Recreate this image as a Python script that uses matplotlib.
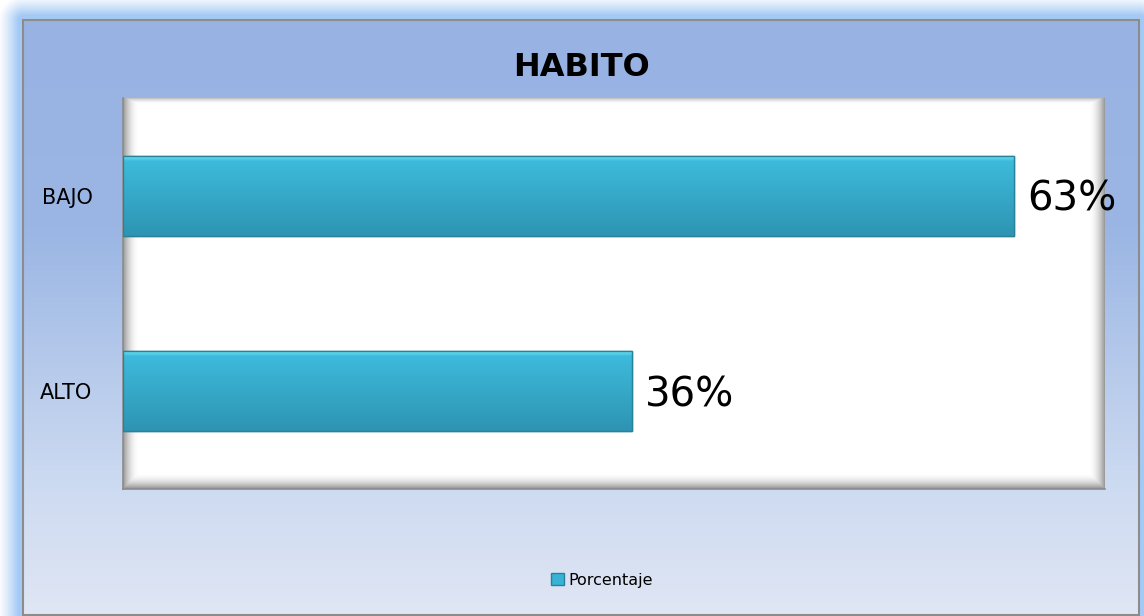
# -*- coding: utf-8 -*-
"""
HABITO - barra horizontal con estilo de Excel.
"""
import numpy as np
import matplotlib
matplotlib.use("Agg")
import matplotlib.pyplot as plt
from matplotlib.patches import Rectangle, Patch

# datos
categorias = ["ALTO", "BAJO"]
porcentaje = [36, 63]
etiquetas = ["36%", "63%"]
titulo = "HABITO"
serie = "Porcentaje"

W, H = 1144, 616
fig = plt.figure(figsize=(W / 100, H / 100), dpi=100)
fig.patch.set_facecolor("white")

# fondo: brillo exterior + degradado del marco
fx0, fx1, fy0, fy1 = 23, 1139, 20, 615
yy, xx = np.mgrid[0:H, 0:W].astype(float)
dx = np.maximum(np.maximum(fx0 - xx, xx - fx1), 0)
dy = np.maximum(np.maximum(fy0 - yy, yy - fy1), 0)
d = np.hypot(dx, dy)
glow = np.array([0.64, 0.79, 0.96])
a = np.clip(1.25 - d / 20, 0, 1) ** 1.2
img = np.ones((H, W, 3)) * (1 - a[..., None]) + glow * a[..., None]

stops_y = [fy0, 230, 480, fy1]
stops_c = np.array([[0.596, 0.702, 0.890], [0.608, 0.714, 0.894],
                    [0.800, 0.855, 0.945], [0.878, 0.902, 0.957]])
grad = np.stack([np.interp(np.arange(H), stops_y, stops_c[:, k]) for k in range(3)], axis=1)
inside = (xx >= fx0) & (xx <= fx1) & (yy >= fy0) & (yy <= fy1)
img[inside] = np.broadcast_to(grad[:, None, :], (H, W, 3))[inside]

bg = fig.add_axes([0, 0, 1, 1])
bg.imshow(img, extent=(0, W, H, 0), aspect="auto", interpolation="bilinear")
bg.add_patch(Rectangle((fx0, fy0), fx1 - fx0, fy1 - fy0, fill=False,
                       edgecolor="#8c8c8c", linewidth=1.5))
bg.set_xlim(0, W)
bg.set_ylim(H, 0)
bg.axis("off")

# area de trazado
px0, px1, py0, py1 = 123, 1105, 98, 489
ax = fig.add_axes([px0 / W, 1 - py1 / H, (px1 - px0) / W, (py1 - py0) / H])
ax.set_facecolor("white")
xmax = 69.4
ax.set_xlim(0, xmax)
ax.set_ylim(-0.5, 1.5)

# sombra interior
pw, ph = px1 - px0, py1 - py0
sy, sx = np.mgrid[0:ph, 0:pw].astype(float)
sh = np.maximum.reduce([
    np.clip(1 - sx / 16, 0, 1) ** 2 * 0.6,
    np.clip(1 - (pw - 1 - sx) / 16, 0, 1) ** 2 * 0.6,
    np.clip(1 - (ph - 1 - sy) / 16, 0, 1) ** 2 * 0.65,
    np.clip(1 - sy / 6, 0, 1) ** 2 * 0.35,
])
shade = np.zeros((ph, pw, 4))
shade[..., :3] = 0.35
shade[..., 3] = sh
ax.imshow(shade, extent=(0, xmax, -0.5, 1.5), aspect="auto", zorder=1)

# barras con degradado
bars = ax.barh(categorias, porcentaje, height=0.41, color="#39b3d5",
               edgecolor="#2a8299", linewidth=1.0, zorder=2)
top_c = np.array([0.45, 0.92, 0.98])
mid_c = np.array([0.24, 0.73, 0.86])
bot_c = np.array([0.18, 0.58, 0.70])
t = np.linspace(0, 1, 80)
col = np.where(t[:, None] < 0.07, top_c + (mid_c - top_c) * (t[:, None] / 0.07),
               mid_c + (bot_c - mid_c) * ((t[:, None] - 0.07) / 0.93))
bar_img = np.repeat(col[:, None, :], 2, axis=1)
for b in bars:
    x0, y0, bw, bh = b.get_x(), b.get_y(), b.get_width(), b.get_height()
    im = ax.imshow(bar_img, extent=(x0, x0 + bw, y0, y0 + bh), aspect="auto",
                   zorder=3, interpolation="bilinear")
    im.set_clip_path(b)
    ax.add_patch(Rectangle((x0, y0), bw, bh, fill=False, edgecolor="#2a8299",
                           linewidth=1.0, zorder=4))

for b, lab in zip(bars, etiquetas):
    ax.annotate(lab, (b.get_width(), b.get_y() + b.get_height() / 2),
                xytext=(9, -3), textcoords="offset points", va="center",
                ha="left", fontsize=29, color="black", zorder=5,
                annotation_clip=False)

ax.set_xticks([])
ax.tick_params(axis="y", length=0, pad=22, labelsize=15)
for s in ["top", "right"]:
    ax.spines[s].set_visible(False)
for s in ["left", "bottom"]:
    ax.spines[s].set_color("#8c8c8c")
    ax.spines[s].set_linewidth(1.2)

fig.text(581 / W, 1 - 67 / H, titulo, ha="center", va="center",
         fontsize=23, fontweight="bold")

fig.legend(handles=[Patch(facecolor="#39b3d5", edgecolor="#2a8299", label=serie)],
           loc="center", bbox_to_anchor=(602 / W, 1 - 580 / H), frameon=False,
           fontsize=11.5, handlelength=0.8, handleheight=0.8, handletextpad=0.3)

fig.savefig("out.png", dpi=100)
